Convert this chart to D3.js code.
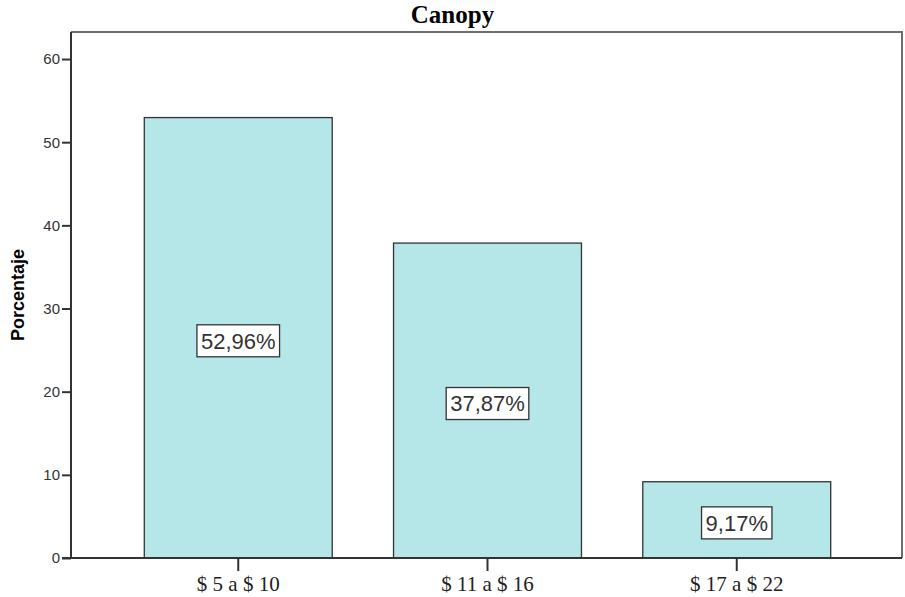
<!DOCTYPE html>
<html>
<head>
<meta charset="utf-8">
<script src="https://cdnjs.cloudflare.com/ajax/libs/d3/7.8.5/d3.min.js"></script>
<style>
  body { margin: 0; background: #fff; }
</style>
</head>
<body>
<div class="chart"></div>
<script>
var categories = ["$ 5 a $ 10", "$ 11 a $ 16", "$ 17 a $ 22"];
var percents = [52.96, 37.87, 9.17];
var labels = ["52,96%", "37,87%", "9,17%"];
var yTicks = [0, 10, 20, 30, 40, 50, 60];

function barChart(){
  var w = 905;
  var h = 597;
  var left = 71, right = 902, top = 32, bottom = 558;

  var svg = d3.select(".chart")
              .append("svg")
              .attr("width", w)
              .attr("height", h);

  var x = d3.scaleBand()
            .domain(categories)
            .range([left + 1, right + 1])
            .paddingInner(0.246)
            .paddingOuter(0.29);

  var y = d3.scaleLinear()
            .domain([0, 63.25])
            .range([bottom, top]);

  // frame (top and right)
  svg.append("path")
     .attr("d", "M" + left + "," + top + "H" + right + "V" + bottom)
     .attr("fill", "none")
     .attr("stroke", "#6e6e6e")
     .attr("stroke-width", 2);

  // bars
  svg.append("g")
     .selectAll("rect")
     .data(percents)
     .join("rect")
       .attr("x", function(d, i){ return x(categories[i]); })
       .attr("y", function(d){ return y(d); })
       .attr("width", x.bandwidth())
       .attr("height", function(d){ return y(0) - y(d); })
       .attr("fill", "#b5e6e8")
       .attr("stroke", "#333")
       .attr("stroke-width", 1.3);

  // y axis
  var yAxis = d3.axisLeft(y)
                .tickValues(yTicks)
                .tickSize(9)
                .tickPadding(2)
                .tickSizeOuter(0);

  var yG = svg.append("g")
              .attr("transform", "translate(" + left + ",0)")
              .call(yAxis);
  yG.select(".domain").attr("d", "M0," + top + "V" + bottom);
  yG.selectAll("line, path").attr("stroke", "#333").attr("stroke-width", 2);
  yG.selectAll("text")
    .style("font-family", "Liberation Sans, Arial, sans-serif")
    .style("font-size", "15px")
    .attr("fill", "#333");

  // x axis
  var xAxis = d3.axisBottom(x)
                .tickSize(13)
                .tickPadding(5)
                .tickSizeOuter(0);

  var xG = svg.append("g")
              .attr("transform", "translate(0," + bottom + ")")
              .call(xAxis);
  xG.select(".domain").attr("d", "M" + (left - 9) + ",0H" + right);
  xG.selectAll("line, path").attr("stroke", "#333").attr("stroke-width", 2);
  xG.selectAll("text")
    .style("font-family", "Liberation Serif, Times New Roman, serif")
    .style("font-size", "21px")
    .attr("fill", "#222");

  // value labels
  var lab = svg.append("g")
               .selectAll("g")
               .data(percents)
               .join("g")
                 .attr("transform", function(d, i){
                   return "translate(" + (x(categories[i]) + x.bandwidth() / 2) + "," + (y(d / 2) + 3) + ")";
                 });

  lab.append("text")
     .attr("text-anchor", "middle")
     .attr("dy", "0.36em")
     .style("font-family", "Liberation Sans, Arial, sans-serif")
     .style("font-size", "22px")
     .attr("fill", "#333")
     .text(function(d, i){ return labels[i]; });

  lab.each(function(){
    var g = d3.select(this);
    var bb = g.select("text").node().getBBox();
    g.insert("rect", "text")
     .attr("x", bb.x - 4)
     .attr("y", -16)
     .attr("width", bb.width + 8)
     .attr("height", 32)
     .attr("fill", "#fff")
     .attr("stroke", "#333")
     .attr("stroke-width", 1.3);
  });

  // title
  svg.append("text")
     .attr("x", w / 2)
     .attr("y", 23)
     .attr("text-anchor", "middle")
     .style("font-family", "Liberation Serif, Times New Roman, serif")
     .style("font-weight", "bold")
     .style("font-size", "25px")
     .text("Canopy");

  // y axis title
  svg.append("text")
     .attr("transform", "translate(24," + ((top + bottom) / 2) + ") rotate(-90)")
     .attr("text-anchor", "middle")
     .style("font-family", "Liberation Sans, Arial, sans-serif")
     .style("font-weight", "bold")
     .style("font-size", "18px")
     .text("Porcentaje");
}

window.onload = barChart;
</script>
</body>
</html>
